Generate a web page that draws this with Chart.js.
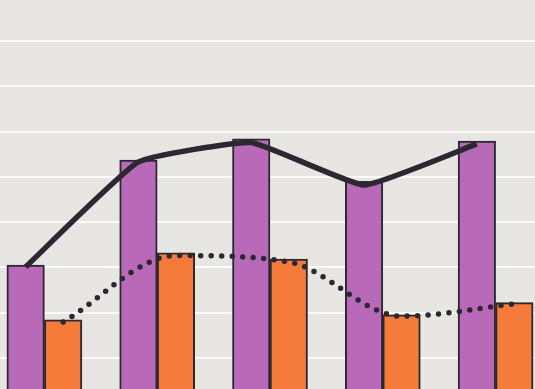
<!DOCTYPE html>
<html>
<head>
<meta charset="utf-8">
<script src="https://cdn.jsdelivr.net/npm/chart.js@4/dist/chart.umd.min.js"></script>
<style>
    html, body { margin: 0; padding: 0; }
    body { width: 535px; height: 389px; overflow: hidden; background: #e8e6e2; position: relative; }
    /* the plot runs past the frame on every side, so the canvas sits a little outside it */
    #wrap { position: absolute; left: -12px; top: -4px; width: 564px; height: 407px; }
</style>
</head>
<body>
<div id="wrap"><canvas id="chart"></canvas></div>
<script>
const categories = ['1', '2', '3', '4', '5'];
const purpleBars = [30.5, 53.7, 58.4, 49.0, 57.9];
const orangeBars = [18.4, 33.2, 31.8, 19.5, 22.2];
const solidLine = [30.1, 53.3, 57.6, 48.2, 57.3];
const dottedLine = [17.9, 32.6, 31.2, 19.2, 21.9];
const yTicks = { min: 0, max: 90, step: 10 };

// share of a category taken by its pair of bars
const CAT_PCT = 0.665;
// a line point sits over the middle of its bar
const BAR_SHIFT = CAT_PCT / 4;
const CANVAS_W = 564;
const BAR_W = CANVAS_W / categories.length * CAT_PCT / 2;

const ink = '#2c2832';

const toPoints = (vals, shift) => vals.map((v, i) => ({ x: i + shift, y: v }));

document.addEventListener('DOMContentLoaded', () => {
    const ctx = document.getElementById('chart').getContext('2d');
    new Chart(ctx, {
        type: 'bar',
        data: {
            labels: categories,
            datasets: [
                {
                    type: 'line',
                    data: toPoints(solidLine, -BAR_SHIFT),
                    xAxisID: 'x2',
                    borderColor: ink,
                    borderWidth: 5.5,
                    tension: 0.12,
                    pointRadius: 0,
                    borderCapStyle: 'butt',
                    order: 0
                },
                {
                    type: 'line',
                    data: toPoints(dottedLine, BAR_SHIFT),
                    xAxisID: 'x2',
                    borderColor: ink,
                    borderWidth: 5.5,
                    borderDash: [0, 10.5],
                    borderCapStyle: 'round',
                    cubicInterpolationMode: 'monotone',
                    pointRadius: 0,
                    order: 0
                },
                {
                    type: 'bar',
                    data: purpleBars,
                    backgroundColor: '#b86ab8',
                    borderColor: ink,
                    borderWidth: 2,
                    borderSkipped: 'bottom',
                    barThickness: BAR_W,
                    order: 1
                },
                {
                    type: 'bar',
                    data: orangeBars,
                    backgroundColor: '#f47b3a',
                    borderColor: ink,
                    borderWidth: 2,
                    borderSkipped: 'bottom',
                    barThickness: BAR_W,
                    order: 1
                }
            ]
        },
        options: {
            responsive: true,
            maintainAspectRatio: false,
            animation: false,
            layout: { padding: 0 },
            plugins: {
                legend: { display: false },
                tooltip: { enabled: false }
            },
            scales: {
                x: {
                    display: false,
                    offset: true,
                    grid: { display: false }
                },
                x2: {
                    type: 'linear',
                    display: false,
                    offset: false,
                    min: -0.5,
                    max: categories.length - 0.5
                },
                y: {
                    min: yTicks.min,
                    max: yTicks.max,
                    ticks: { display: false, stepSize: yTicks.step },
                    border: { display: false },
                    grid: {
                        color: '#fbfbfa',
                        lineWidth: 2,
                        drawTicks: false
                    }
                }
            }
        }
    });
});
</script>
</body>
</html>
